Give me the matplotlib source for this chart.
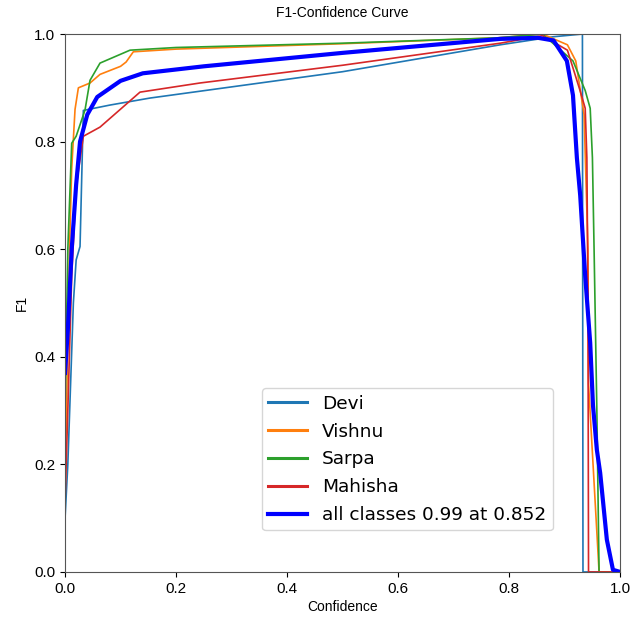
import numpy as np
import matplotlib
matplotlib.use('Agg')
import matplotlib.pyplot as plt

# class curves (confidence, F1)
devi_x = [0.0, 0.005, 0.015, 0.02, 0.027, 0.033, 0.081, 0.153, 0.5, 0.784, 0.88, 0.932, 0.933, 1.0]
devi_y = [0.10, 0.20, 0.50, 0.58, 0.605, 0.858, 0.868, 0.881, 0.93, 0.98, 0.995, 1.0, 0.0, 0.0]

vishnu_x = [0.0, 0.008, 0.012, 0.018, 0.024, 0.045, 0.063, 0.10, 0.11, 0.123, 0.2, 0.5, 0.78, 0.86, 0.905, 0.92, 0.935, 0.942, 0.943, 0.962, 1.0]
vishnu_y = [0.15, 0.60, 0.75, 0.86, 0.90, 0.909, 0.925, 0.94, 0.948, 0.967, 0.972, 0.982, 0.993, 1.0, 0.98, 0.95, 0.85, 0.60, 0.35, 0.0, 0.0]

sarpa_x = [0.0, 0.005, 0.012, 0.02, 0.036, 0.045, 0.063, 0.117, 0.2, 0.5, 0.78, 0.86, 0.915, 0.937, 0.946, 0.95, 0.953, 0.958, 0.962, 1.0]
sarpa_y = [0.30, 0.60, 0.797, 0.81, 0.859, 0.914, 0.946, 0.97, 0.975, 0.983, 0.993, 1.0, 0.95, 0.895, 0.862, 0.77, 0.60, 0.30, 0.0, 0.0]

mahisha_x = [0.0, 0.005, 0.012, 0.02, 0.033, 0.063, 0.135, 0.243, 0.5, 0.784, 0.86, 0.905, 0.928, 0.937, 0.94, 0.942, 0.943, 1.0]
mahisha_y = [0.13, 0.30, 0.55, 0.716, 0.81, 0.827, 0.892, 0.909, 0.942, 0.983, 0.997, 0.97, 0.894, 0.862, 0.77, 0.50, 0.0, 0.0]

all_x = [0.0, 0.005, 0.012, 0.02, 0.027, 0.04, 0.058, 0.10, 0.14, 0.25, 0.5, 0.784, 0.852, 0.88, 0.904, 0.915, 0.922, 0.928, 0.937, 0.946, 0.951, 0.958, 0.964, 0.976, 0.987, 1.0]
all_y = [0.37, 0.45, 0.60, 0.72, 0.80, 0.85, 0.883, 0.913, 0.927, 0.94, 0.965, 0.991, 0.993, 0.988, 0.95, 0.886, 0.77, 0.70, 0.55, 0.426, 0.31, 0.227, 0.184, 0.06, 0.004, 0.0]

names = ['Devi', 'Vishnu', 'Sarpa', 'Mahisha']
xs = [devi_x, vishnu_x, sarpa_x, mahisha_x]
ys = [devi_y, vishnu_y, sarpa_y, mahisha_y]

fig = plt.figure(figsize=(6.44, 6.19), dpi=100)
ax = fig.add_axes([0.101, 0.076, 0.862, 0.869])

for i in range(4):
    ax.plot(xs[i], ys[i], lw=1.2, color='C%d' % i, label=names[i])
ax.plot(all_x, all_y, lw=3, color='blue', label='all classes 0.99 at 0.852')

ax.set_xlim(0, 1)
ax.set_ylim(0, 1)
ax.set_xticks(np.arange(0, 1.01, 0.2))
ax.set_yticks(np.arange(0, 1.01, 0.2))
for lab in ax.get_xticklabels() + ax.get_yticklabels():
    lab.set_family('Liberation Sans')
    lab.set_fontsize(11)
for s in ax.spines.values():
    s.set_color('#555555')
ax.set_xlabel('Confidence', family='Liberation Sans', fontsize=10, labelpad=3)
ax.set_ylabel('F1', family='Liberation Sans', fontsize=10)
ax.set_title('F1-Confidence Curve', family='Liberation Sans', fontsize=10, pad=12)

leg = ax.legend(loc='lower left', bbox_to_anchor=(0.338, 0.06), fontsize=13.3,
                handlelength=2.1, labelspacing=0.53, borderpad=0.35)
for ln in leg.get_lines()[:4]:
    ln.set_linewidth(2.2)

fig.savefig('out.png', dpi=100)
